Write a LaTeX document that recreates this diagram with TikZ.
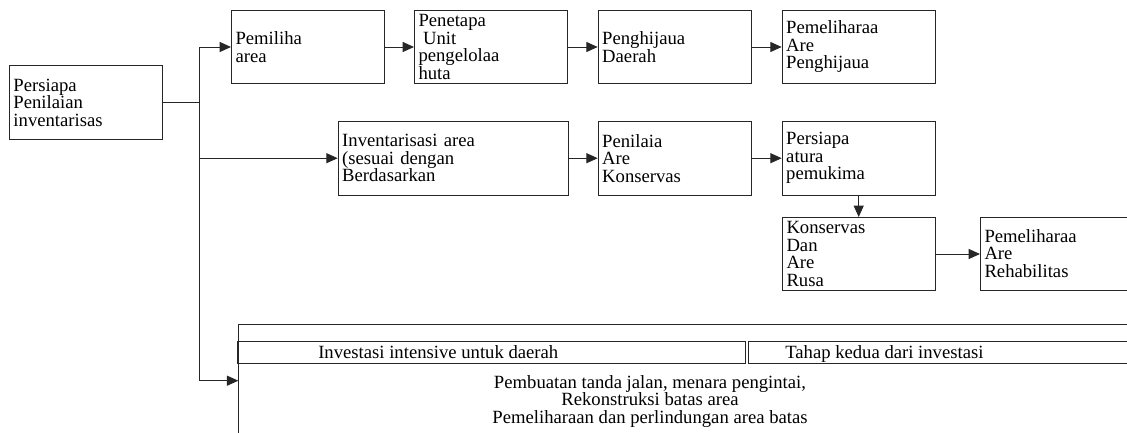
\documentclass[tikz,border=0pt]{standalone}
\usepackage{fontspec}
\setmainfont{Liberation Serif}
\usetikzlibrary{arrows.meta}

\tikzset{
    kotak/.style={draw=black!85, line width=.75pt, rectangle, anchor=north west,
        align=left, inner xsep=3pt, inner ysep=0pt, text width=#1, minimum height=54.75pt},
    kotak/.default=108.75pt,
    panah/.style={draw=black!85, line width=.75pt, -{Triangle[length=8.5pt,width=7.5pt]}},
    garis/.style={draw=black!85, line width=.75pt}
}

\begin{document}
\begin{tikzpicture}[x=.75pt, y=-.75pt, font=\fontsize{14pt}{13.1pt}\selectfont]

            \useasboundingbox (0,0) rectangle (1127,432);
            \clip (0,0) rectangle (1127,432);

            % Kotak-kotak tahapan
            \node[kotak, minimum height=55.5pt] (persiapan) at (9,65) {Persiapa\\Penilaian\\inventarisas};
            \node[kotak] (pemilihan) at (231,10) {Pemiliha\\area};
            \node[kotak] (penetapan) at (414,10) {Penetapa\\\hspace*{.25em}Unit\\pengelolaa\\huta};
            \node[kotak] (penghijauan) at (597.7,10) {Penghijaua\\Daerah};
            \node[kotak] (pemeliharaan) at (781.7,10) {Pemeliharaa\\Are\\Penghijaua};
            \node[kotak=166.5pt, minimum height=55.5pt] (inventarisasi) at (337.7,120.7) {Inventarisasi area\\(sesuai dengan\\Berdasarkan};
            \node[kotak, minimum height=55.5pt] (penilaian) at (597.7,120.7) {Penilaia\\Are\\Konservas};
            \node[kotak, minimum height=55.5pt] (pemukiman) at (781.7,120.7) {Persiapa\\atura\\pemukima};
            \node[kotak] (konservasi) at (782,217) {Konservas\\Dan\\Are\\Rusa};
            \node[kotak] (rehabilitasi) at (980,216.5) {Pemeliharaa\\Are\\Rehabilitas};

            % Bagian investasi di bawah
            \draw[garis] (1140,324) -| (238.3,440);
            \draw[garis] (237.7,341.7) rectangle (745.7,363.3);
            \draw[garis] (748.3,341.7) rectangle (1140,363.3);
            \node[anchor=base west, inner sep=0pt] (intensif) at (318,358) {Investasi intensive untuk daerah};
            \node[anchor=base west, inner sep=0pt] (kedua) at (785,358) {Tahap kedua dari investasi};
            \node[anchor=north, align=center, inner sep=0pt] (kegiatan) at (650,375)
                {Pembuatan tanda jalan, menara pengintai,\\Rekonstruksi batas area\\Pemeliharaan dan perlindungan area batas};
            \coordinate (masuk) at (238.3,380.7);

            % Cabang dari kotak persiapan
            \path (persiapan.east) ++(36.7,0) coordinate (cabang);
            \draw[garis] (persiapan.east) -- (cabang);
            \foreach \tujuan in {pemilihan.west, inventarisasi.west, masuk} {
                \draw[panah] (cabang) |- (\tujuan);
            }

            % Panah antar kotak
            \foreach \a/\b in {
            pemilihan/penetapan,
            penetapan/penghijauan,
            penghijauan/pemeliharaan,
            inventarisasi/penilaian,
            penilaian/pemukiman,
            konservasi/rehabilitasi} {
                \draw[panah] (\a.east) -- (\a.east -| \b.west);
            }
            \draw[panah] (pemukiman.south) -- (pemukiman.south |- konservasi.north);

\end{tikzpicture}
\end{document}
